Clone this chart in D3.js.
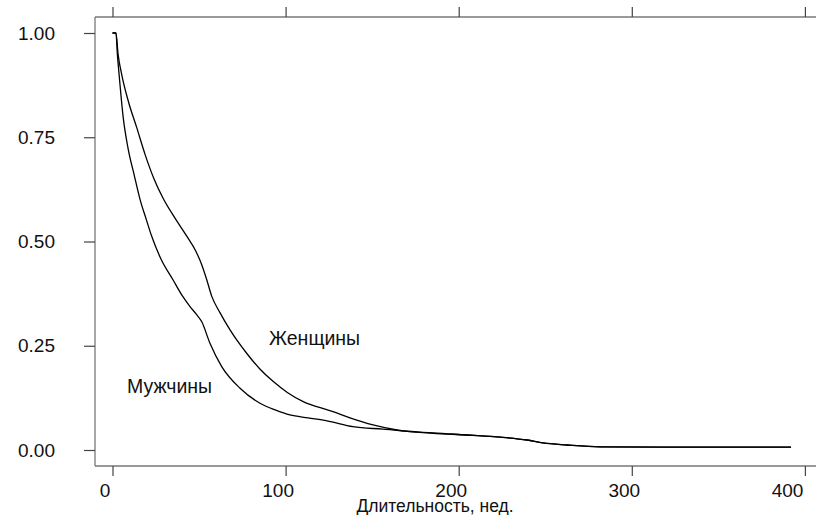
<!DOCTYPE html>
<html>
<head>
<meta charset="utf-8">
<script src="https://cdn.jsdelivr.net/npm/d3@7"></script>
<style>
  body { margin: 0; background: #fff; }
  svg { display: block; font-family: "Liberation Sans", Arial, sans-serif; }
</style>
</head>
<body>
<svg id="chart" width="816" height="515"></svg>
<script>
// ---- data ----
const xTicks = [0, 100, 200, 300, 400];
const yTicks = [0, 0.25, 0.5, 0.75, 1.0];
const yTickLabels = ["0.00", "0.25", "0.50", "0.75", "1.00"];
const xTitle = "Длительность, нед.";
const seriesNames = ["Женщины", "Мужчины"];

const weeksWomen = [0, 2, 3.2, 5.3, 9.1, 14.0, 18.8, 24, 29.3, 36.1, 42.9, 48, 51.5, 54.4, 57.3, 62, 67.9, 77.5, 85, 92.9, 101, 110.2, 118, 127.4, 137.2, 150.5, 164.4, 185.2, 204.8, 223.9, 239.5, 248.7, 262.6, 281.6, 320, 392];
const survWomen  = [1, 1, 0.95, 0.901, 0.837, 0.773, 0.709, 0.650, 0.603, 0.556, 0.513, 0.478, 0.445, 0.409, 0.369, 0.33, 0.288, 0.232, 0.195, 0.164, 0.138, 0.116, 0.104, 0.092, 0.077, 0.060, 0.048, 0.041, 0.036, 0.031, 0.024, 0.017, 0.012, 0.0075, 0.007, 0.007];

const weeksMen = [0, 2, 2.8, 3.8, 6.2, 9.1, 12.5, 15.9, 19.5, 22.6, 28, 35.1, 40, 44.8, 48.5, 51.5, 56.3, 63.1, 73.7, 85.2, 94, 102.5, 113, 123.9, 138.9, 156.2, 185.2, 204.8, 223.9, 239.5, 248.7, 262.6, 281.6, 320, 392];
const survMen  = [1, 1, 0.95, 0.901, 0.797, 0.721, 0.66, 0.601, 0.553, 0.513, 0.458, 0.407, 0.372, 0.344, 0.325, 0.308, 0.256, 0.200, 0.148, 0.112, 0.096, 0.084, 0.077, 0.070, 0.056, 0.050, 0.040, 0.036, 0.031, 0.024, 0.017, 0.012, 0.0075, 0.007, 0.007];

// ---- layout ----
const svg = d3.select("#chart");
const frameLeft = 95, frameTop = 17, frameBottom = 466, frameRight = 816;
const x = d3.scaleLinear().domain([0, 400]).range([112.5, 804.9]);
const y = d3.scaleLinear().domain([0, 1]).range([450, 33]);
const axisColor = "#777";
const tickColor = "#444";
const fontFam = "Liberation Sans, Arial, sans-serif";

// frame lines (left, top, bottom)
svg.append("line").attr("x1", frameLeft).attr("x2", frameLeft).attr("y1", frameTop).attr("y2", frameBottom)
  .attr("stroke", axisColor).attr("stroke-width", 1.3);
svg.append("line").attr("x1", frameLeft).attr("x2", frameRight).attr("y1", frameTop).attr("y2", frameTop)
  .attr("stroke", axisColor).attr("stroke-width", 1.3);
svg.append("line").attr("x1", frameLeft).attr("x2", frameRight).attr("y1", frameBottom).attr("y2", frameBottom)
  .attr("stroke", axisColor).attr("stroke-width", 1.3);

// left axis
const gl = svg.append("g").attr("transform", `translate(${frameLeft},0)`)
  .call(d3.axisLeft(y).tickValues(yTicks).tickFormat((d, i) => yTickLabels[i]).tickSize(11).tickPadding(29));
gl.select(".domain").remove();
gl.selectAll(".tick line").attr("stroke", tickColor).attr("stroke-width", 1.2);
gl.selectAll(".tick text").attr("font-size", 19).attr("fill", "#111").attr("font-family", fontFam);

// bottom axis
const gb = svg.append("g").attr("transform", `translate(0,${frameBottom})`)
  .call(d3.axisBottom(x).tickValues(xTicks).tickFormat(d3.format("d")).tickSize(10).tickPadding(8));
gb.select(".domain").remove();
gb.selectAll(".tick line").attr("stroke", tickColor).attr("stroke-width", 1.2);
gb.selectAll(".tick text").attr("font-size", 19).attr("fill", "#111").attr("font-family", fontFam)
  .attr("dx", (d, i, n) => i === n.length - 1 ? -2 : -8)
  .attr("text-anchor", (d, i, n) => i === n.length - 1 ? "end" : "middle");

// top axis (ticks only)
const gt = svg.append("g").attr("transform", `translate(0,${frameTop})`)
  .call(d3.axisTop(x).tickValues(xTicks).tickFormat("").tickSize(10));
gt.select(".domain").remove();
gt.selectAll(".tick line").attr("stroke", tickColor).attr("stroke-width", 1.2);

// axis title
svg.append("text").attr("x", 435).attr("y", 512).attr("text-anchor", "middle")
  .attr("font-size", 17.5).attr("fill", "#111").text(xTitle);

// curves
const line = d3.line().x(d => x(d[0])).y(d => y(d[1])).curve(d3.curveMonotoneX);
const womenData = d3.zip(weeksWomen, survWomen);
const menData = d3.zip(weeksMen, survMen);
[womenData, menData].forEach(dat => {
  svg.append("path").datum(dat).attr("d", line)
    .attr("fill", "none").attr("stroke", "#000").attr("stroke-width", 1.3);
});

// labels
svg.append("text").attr("x", 269).attr("y", 345).attr("font-size", 19.5).attr("fill", "#111").text(seriesNames[0]);
svg.append("text").attr("x", 127).attr("y", 393).attr("font-size", 19.5).attr("fill", "#111").text(seriesNames[1]);
</script>
</body>
</html>
